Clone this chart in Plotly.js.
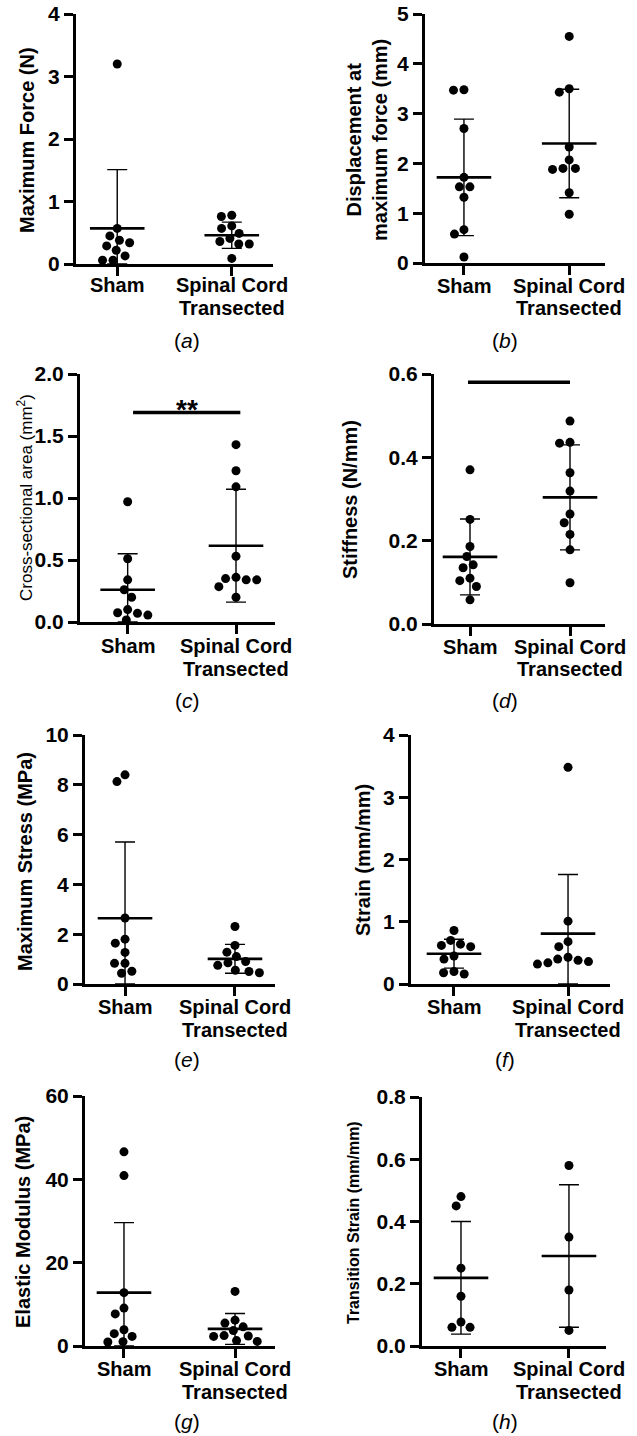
<!DOCTYPE html>
<html>
<head>
<meta charset="utf-8">
<script src="https://cdn.plot.ly/plotly-3.0.1.min.js"></script>
<style>html,body{margin:0;padding:0;background:#fff;}#chart{width:637px;height:1436px;}</style>
</head>
<body>
<div id="chart"></div>
<script>
// ---------- DATA ----------
const groups = ['Sham', 'Spinal Cord<br>Transected'];

// (a) Maximum Force (N)
const forceSham = [3.20, 0.57, 0.45, 0.38, 0.34, 0.29, 0.22, 0.13, 0.06, 0.06];
const forceSCT  = [0.78, 0.76, 0.61, 0.57, 0.49, 0.41, 0.36, 0.32, 0.32, 0.09];
const forceMean = [0.57, 0.46];
const forceSD   = [0.94, 0.21];

// (b) Displacement at maximum force (mm)
const dispSham = [3.48, 3.47, 2.70, 1.72, 1.53, 1.53, 1.32, 0.67, 0.58, 0.12];
const dispSCT  = [4.55, 3.50, 3.43, 2.33, 2.07, 1.90, 1.90, 1.88, 1.41, 0.98];
const dispMean = [1.72, 2.40];
const dispSD   = [1.17, 1.09];

// (c) Cross-sectional area (mm^2)
const areaSham = [0.97, 0.51, 0.34, 0.26, 0.20, 0.10, 0.075, 0.07, 0.056, 0.016];
const areaSCT  = [1.43, 1.22, 1.09, 0.53, 0.36, 0.35, 0.34, 0.34, 0.285, 0.20];
const areaMean = [0.26, 0.615];
const areaSD   = [0.29, 0.455];

// (d) Stiffness (N/mm)
const stiffSham = [0.37, 0.251, 0.186, 0.162, 0.142, 0.135, 0.11, 0.104, 0.09, 0.058];
const stiffSCT  = [0.487, 0.436, 0.434, 0.363, 0.319, 0.264, 0.243, 0.215, 0.178, 0.099];
const stiffMean = [0.161, 0.304];
const stiffSD   = [0.091, 0.126];

// (e) Maximum Stress (MPa)
const stressSham = [8.40, 8.13, 2.65, 1.80, 1.64, 1.27, 0.83, 0.83, 0.51, 0.43];
const stressSCT  = [2.31, 1.55, 1.28, 1.10, 0.90, 0.85, 0.75, 0.55, 0.50, 0.45];
const stressMean = [2.64, 1.01];
const stressSD   = [3.06, 0.58];

// (f) Strain (mm/mm)
const strainSham = [0.86, 0.70, 0.64, 0.62, 0.60, 0.45, 0.40, 0.20, 0.18, 0.16];
const strainSCT  = [3.48, 1.01, 0.68, 0.60, 0.43, 0.40, 0.38, 0.36, 0.34, 0.32];
const strainMean = [0.487, 0.81];
const strainSD   = [0.232, 0.95];

// (g) Elastic Modulus (MPa)
const modSham = [46.6, 40.9, 12.8, 9.1, 7.7, 3.9, 2.96, 2.3, 1.04, 0.96];
const modSCT  = [13.1, 6.2, 5.5, 4.6, 3.7, 2.5, 2.4, 2.3, 1.3, 1.1];
const modMean = [12.8, 4.1];
const modSD   = [16.8, 3.7];

// (h) Transition Strain (mm/mm)
const transSham = [0.48, 0.45, 0.25, 0.16, 0.077, 0.06, 0.06];
const transSCT  = [0.58, 0.35, 0.18, 0.05];
const transMean = [0.219, 0.289];
const transSD   = [0.181, 0.229];

// significance bars
const areaSig  = {y: 1.69, x: [0.05, 1.04], label: '**'};
const stiffSig = {y: 0.58, x: [-0.02, 1.0], label: ''};

const panelLabels = ['a','b','c','d','e','f','g','h'];
const yTitles = [
  'Maximum Force (N)',
  'Displacement at<br>maximum force (mm)',
  'Cross-sectional area (mm<sup>2</sup>)',
  'Stiffness (N/mm)',
  'Maximum Stress (MPa)',
  'Strain (mm/mm)',
  'Elastic Modulus (MPa)',
  'Transition Strain (mm/mm)'
];

// ---------- LAYOUT GEOMETRY (pixels) ----------
const W = 637, H = 1436;
const FONT = 'Liberation Sans, Arial, Helvetica, sans-serif';
const panels = [
  {sham: forceSham, sct: forceSCT, mean: forceMean, sd: forceSD, x0: 76, x1: 273, yt: 14, yb: 264, yr: [0, 4], dt: 1, fmt: '', xr: [-0.36, 1.36], tx: 27, ty: 140, tsize: 20, tw: 'bold', lx: 187, ly: 341, cl: 21},
  {sham: dispSham, sct: dispSCT, mean: dispMean, sd: dispSD, x0: 425, x1: 605, yt: 14, yb: 263, yr: [0, 5], dt: 1, fmt: '', xr: [-0.37, 1.34], tx: 367, ty: 140, tsize: 20, tw: 'bold', lx: 505, ly: 341, cl: 23},
  {sham: areaSham, sct: areaSCT, mean: areaMean, sd: areaSD, x0: 80, x1: 275, yt: 374, yb: 622, yr: [0, 2], dt: 0.5, fmt: '.1f', xr: [-0.44, 1.36], tx: 25, ty: 498, tsize: 17, tw: 'normal', lx: 187, ly: 701, cl: 24, sig: areaSig},
  {sham: stiffSham, sct: stiffSCT, mean: stiffMean, sd: stiffSD, x0: 434, x1: 605, yt: 374, yb: 624, yr: [0, 0.6], dt: 0.2, fmt: '.1f', xr: [-0.36, 1.35], tx: 350, ty: 500, tsize: 20, tw: 'bold', lx: 505, ly: 701, cl: 23, sig: stiffSig},
  {sham: stressSham, sct: stressSCT, mean: stressMean, sd: stressSD, x0: 85, x1: 275, yt: 735, yb: 984, yr: [0, 10], dt: 2, fmt: '', xr: [-0.364, 1.364], tx: 25, ty: 862, tsize: 20, tw: 'bold', lx: 187, ly: 1059, cl: 23},
  {sham: strainSham, sct: strainSCT, mean: strainMean, sd: strainSD, x0: 411, x1: 610, yt: 735, yb: 984, yr: [0, 4], dt: 1, fmt: '', xr: [-0.377, 1.368], tx: 363, ty: 860, tsize: 20, tw: 'bold', lx: 505, ly: 1059, cl: 23},
  {sham: modSham, sct: modSCT, mean: modMean, sd: modSD, x0: 85, x1: 275, yt: 1096, yb: 1346, yr: [0, 60], dt: 20, fmt: '', xr: [-0.351, 1.36], tx: 23, ty: 1222, tsize: 20, tw: 'bold', lx: 187, ly: 1421, cl: 23},
  {sham: transSham, sct: transSCT, mean: transMean, sd: transSD, x0: 422, x1: 606, yt: 1097, yb: 1346, yr: [0, 0.8], dt: 0.2, fmt: '.1f', xr: [-0.361, 1.343], tx: 353, ty: 1223, tsize: 16, tw: 'bold', lx: 505, ly: 1421, cl: 23}
];

// simple beeswarm: x offsets (data units) avoiding marker overlap in pixel space
function swarm(vals, pxX, pxY, d) {
  const order = vals.map((v, i) => i).sort((a, b) => vals[b] - vals[a]);
  const placed = [];
  const off = new Array(vals.length).fill(0);
  order.forEach(i => {
    const y = vals[i] * pxY;
    const cands = [0];
    const near = placed.filter(p => Math.abs(p.y - y) < d);
    near.forEach(p => {
      const w = Math.sqrt(d * d - (p.y - y) * (p.y - y));
      cands.push(p.x - w, p.x + w);
    });
    cands.sort((a, b) => Math.abs(a) - Math.abs(b) || a - b);
    let best = 0;
    for (const c of cands) {
      if (near.every(p => Math.hypot(p.x - c, p.y - y) >= d - 1e-6)) { best = c; break; }
    }
    placed.push({x: best, y: y});
    off[i] = best / pxX;
  });
  return off;
}

const traces = [];
const layout = {
  width: W, height: H,
  margin: {l: 0, r: 0, t: 0, b: 0},
  paper_bgcolor: '#fff', plot_bgcolor: '#fff',
  showlegend: false,
  font: {family: FONT, color: '#000'},
  annotations: [], shapes: []
};

panels.forEach((p, k) => {
  const n = k + 1;
  const xa = n === 1 ? 'xaxis' : 'xaxis' + n;
  const ya = n === 1 ? 'yaxis' : 'yaxis' + n;
  const xr = n === 1 ? 'x' : 'x' + n;
  const yr = n === 1 ? 'y' : 'y' + n;
  const pxX = (p.x1 - p.x0) / (p.xr[1] - p.xr[0]);
  const pxY = (p.yb - p.yt) / (p.yr[1] - p.yr[0]);
  const D = 10.5;

  [p.sham, p.sct].forEach((vals, g) => {
    const offs = swarm(vals, pxX, pxY, D);
    traces.push({
      type: 'scatter', mode: 'markers', xaxis: xr, yaxis: yr,
      x: vals.map((v, i) => g + offs[i]), y: vals,
      marker: {color: '#000', size: 9, line: {width: 0}},
      cliponaxis: false, hoverinfo: 'y'
    });
  });

  traces.push({
    type: 'scatter', mode: 'markers', xaxis: xr, yaxis: yr,
    x: [0, 1], y: p.mean,
    marker: {symbol: 'line-ew', size: 39, color: '#000', line: {color: '#000', width: 2.6}},
    error_y: {type: 'data', symmetric: false, array: p.sd,
              arrayminus: p.sd.map((s, i) => Math.min(s, p.mean[i])),
              color: '#000', thickness: 1.4, width: 10},
    cliponaxis: false, hoverinfo: 'y'
  });

  layout[xa] = {
    domain: [p.x0 / W, p.x1 / W], range: p.xr, anchor: yr,
    tickmode: 'array', tickvals: [0, 1], showticklabels: false,
    ticks: 'outside', ticklen: 9, tickwidth: 3, tickcolor: '#000',
    showline: true, linewidth: 3, linecolor: '#000',
    showgrid: false, zeroline: false, fixedrange: true
  };
  layout[ya] = {
    domain: [1 - p.yb / H, 1 - p.yt / H], range: p.yr, anchor: xr,
    tickmode: 'linear', tick0: 0, dtick: p.dt, tickformat: p.fmt,
    ticks: 'outside', ticklen: 9, tickwidth: 3, tickcolor: '#000',
    showline: true, linewidth: 3, linecolor: '#000',
    showgrid: false, zeroline: false, fixedrange: true,
    tickfont: {family: FONT, size: 21, color: '#000', weight: 'bold'}
  };

  // category labels (tight line spacing as in the reference)
  groups.forEach((gl, g) => {
    gl.split('<br>').forEach((line, j) => {
      layout.annotations.push({
        xref: xr, yref: 'paper', x: g, y: 1 - (p.yb + p.cl + j * 22.5) / H,
        xanchor: 'center', yanchor: 'middle', showarrow: false, borderpad: 0,
        text: line, font: {family: FONT, size: 20, color: '#000', weight: 'bold'}
      });
    });
  });

  layout.annotations.push({
    xref: 'paper', yref: 'paper', x: p.tx / W, y: 1 - p.ty / H,
    xanchor: 'center', yanchor: 'middle', textangle: -90, showarrow: false,
    text: yTitles[k],
    font: {family: FONT, size: p.tsize, color: '#000', weight: p.tw}
  });
  layout.annotations.push({
    xref: 'paper', yref: 'paper', x: p.lx / W, y: 1 - p.ly / H,
    xanchor: 'center', yanchor: 'middle', showarrow: false,
    text: '(<i>' + panelLabels[k] + '</i>)',
    font: {family: FONT, size: 21, color: '#000'}
  });

  if (p.sig) {
    layout.shapes.push({
      type: 'line', xref: xr, yref: yr,
      x0: p.sig.x[0], x1: p.sig.x[1], y0: p.sig.y, y1: p.sig.y,
      line: {color: '#000', width: 3.5}
    });
    if (p.sig.label) {
      layout.annotations.push({
        xref: xr, yref: yr, x: (p.sig.x[0] + p.sig.x[1]) / 2, y: p.sig.y,
        yanchor: 'middle', showarrow: false, yshift: 3,
        text: p.sig.label, font: {family: FONT, size: 28, color: '#000', weight: 'bold'}
      });
    }
  }
});

Plotly.newPlot('chart', traces, layout, {displayModeBar: false, staticPlot: true});
</script>
</body>
</html>
